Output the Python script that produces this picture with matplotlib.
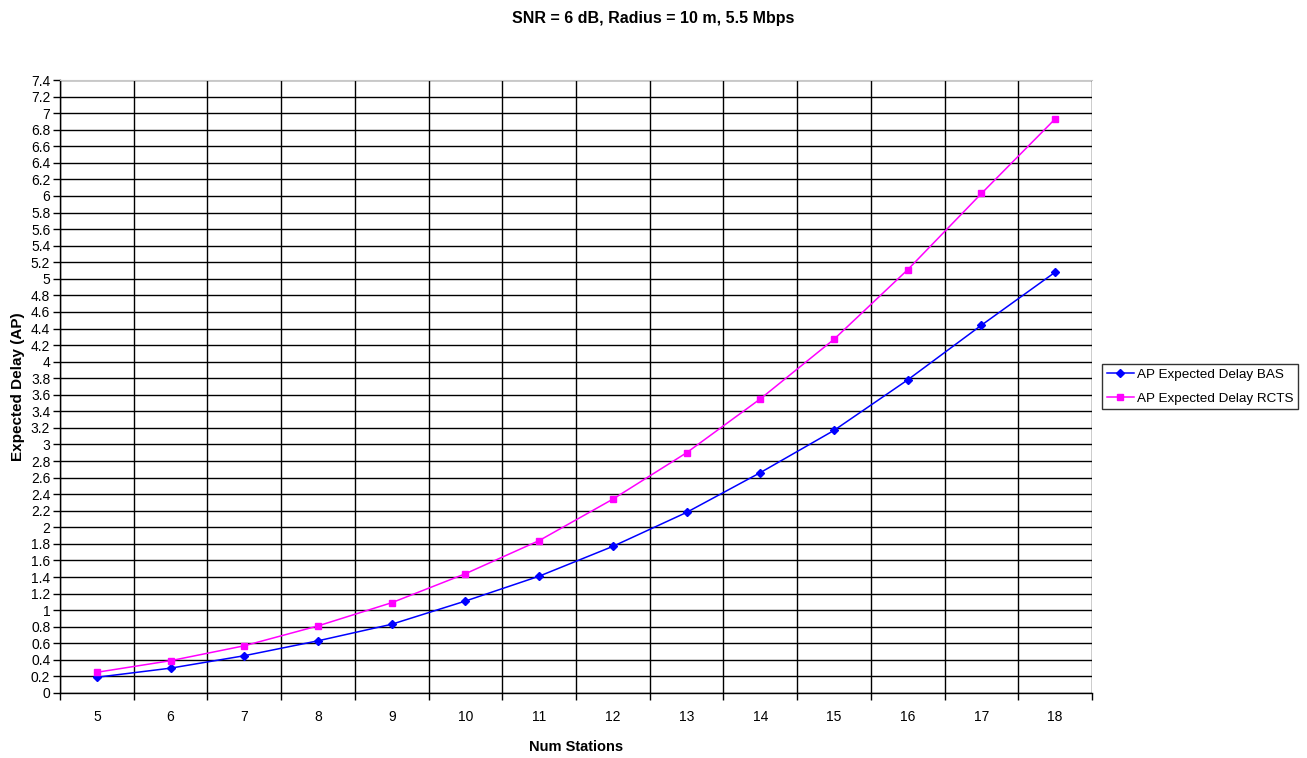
import matplotlib.pyplot as plt
import numpy as np

plt.rcParams['font.family'] = ['Liberation Sans', 'DejaVu Sans']

# Expected AP delay vs number of stations
stations = [5, 6, 7, 8, 9, 10, 11, 12, 13, 14, 15, 16, 17, 18]
delay_bas = [0.19, 0.30, 0.45, 0.63, 0.83, 1.11, 1.41, 1.77, 2.18, 2.66, 3.17, 3.78, 4.44, 5.08]
delay_rcts = [0.25, 0.39, 0.57, 0.81, 1.09, 1.44, 1.84, 2.34, 2.90, 3.55, 4.27, 5.11, 6.03, 6.93]

fig = plt.figure(figsize=(13.07, 7.58), dpi=100)
ax = fig.add_axes([60 / 1307, 1 - 693 / 758, (1092 - 60) / 1307, (693 - 80) / 758])

x = np.arange(len(stations))
ax.plot(x, delay_bas, '-', color='#0000FF', linewidth=1.1, marker='D',
        markersize=4.5, label='AP Expected Delay BAS')
ax.plot(x, delay_rcts, '-', color='#FF00FF', linewidth=1.1, marker='s',
        markersize=5, label='AP Expected Delay RCTS')

ax.set_xlim(-0.5, len(stations) - 0.5)
ax.set_ylim(0, 7.4)

# category axis: labels in the middle, ticks/gridlines on the boundaries
ax.set_xticks(x)
ax.set_xticklabels([str(s) for s in stations], fontsize=10)
ax.set_xticks(np.arange(len(stations) + 1) - 0.5, minor=True)
ax.tick_params(axis='x', which='major', length=0, pad=12)
ax.tick_params(axis='x', which='minor', length=5, width=1, color='black')
ax.grid(True, which='minor', axis='x', color='black', linewidth=1)

yt = np.round(np.arange(0, 7.41, 0.2), 1)
ax.set_yticks(yt)
ax.set_yticklabels([f'{v:g}' for v in yt], fontsize=10)
ax.tick_params(axis='y', length=5, width=1, pad=2)
ax.grid(True, which='major', axis='y', color='black', linewidth=1)
ax.set_axisbelow(True)

ax.spines['right'].set_visible(False)
ax.spines['top'].set_color('#c8c8c8')
ax.spines['left'].set_linewidth(1)
ax.spines['bottom'].set_linewidth(1)

ax.set_xlabel('Num Stations', fontsize=10.5, fontweight='bold')
ax.xaxis.set_label_coords(0.5, -(747 - 693) / 613)
ax.xaxis.label.set_va('center')
ax.set_ylabel('Expected Delay (AP)', fontsize=11, fontweight='bold', labelpad=4)
fig.text(0.5, 1 - 18 / 758, 'SNR = 6 dB, Radius = 10 m, 5.5 Mbps',
         ha='center', va='center', fontsize=11.5, fontweight='bold')

leg = ax.legend(loc='center left', bbox_to_anchor=(1.0097, 0.5), fontsize=9.7,
                frameon=True, fancybox=False, edgecolor='black',
                borderaxespad=0, handlelength=2.0, borderpad=0.35,
                labelspacing=0.85, handletextpad=0.25)
leg.get_frame().set_linewidth(1)

fig.savefig('out.png', dpi=100)
